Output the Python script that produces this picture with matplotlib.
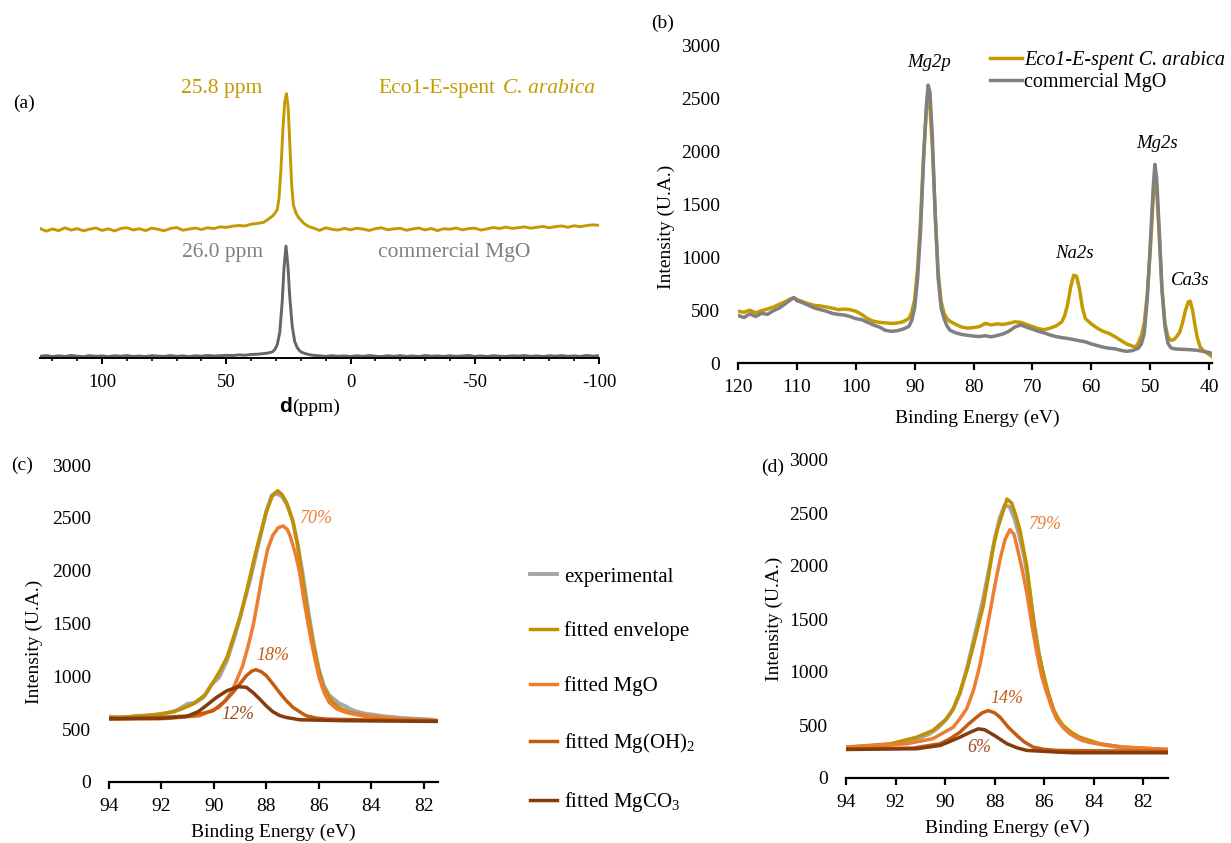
import matplotlib
matplotlib.use("Agg")
import matplotlib.pyplot as plt
from matplotlib.ticker import MultipleLocator

plt.rcParams['font.family'] = ['Liberation Serif', 'DejaVu Serif']
plt.rcParams['mathtext.fontset'] = 'custom'
plt.rcParams['mathtext.rm'] = 'Liberation Serif'
plt.rcParams['mathtext.it'] = 'Liberation Serif:italic'
plt.rcParams['axes.unicode_minus'] = False

# ---------------- (a) 25Mg NMR ----------------
ppm_mgo = [125, 122.5, 120, 117.5, 115, 112.5, 110, 107.5, 105, 102.5, 100, 97.5, 95, 92.5, 90, 87.5,
           85, 82.5, 80, 77.5, 75, 72.5, 70, 67.5, 65, 62.5, 60, 57.5, 55, 52.5, 50, 47.5, 45, 42.5,
           40, 37.5, 35, 33, 31.5, 30.5, 29.5, 28.5, 27.5, 26.8, 26.0, 25.2, 24.5, 23.5, 22.5, 21.5,
           20.5, 19.5, 18, 16.5, 15, 12.5, 10, 7.5, 5, 2.5, 0, -2.5, -5, -7.5, -10, -12.5, -15, -17.5,
           -20, -22.5, -25, -27.5, -30, -32.5, -35, -37.5, -40, -42.5, -45, -47.5, -50, -52.5, -55,
           -57.5, -60, -62.5, -65, -67.5, -70, -72.5, -75, -77.5, -80, -82.5, -85, -87.5, -90, -92.5,
           -95, -97.5, -100]
nmr_mgo = [0.5, 1.2, 0.3, 1.0, 0.4, 1.3, 0.6, 0.2, 1.1, 0.5, 0.9, 0.2, 1.0, 0.6, 1.2, 0.4,
           0.8, 0.3, 1.1, 0.7, 0.4, 1.2, 0.5, 0.9, 0.3, 1.0, 0.6, 1.3, 0.8, 1.1, 1.4, 1.2, 1.8, 1.5,
           2.2, 2.4, 3.0, 3.6, 4.5, 6.5, 11, 22, 50, 80, 100, 82, 55, 28, 14, 8.5,
           5.5, 4.0, 2.8, 2.0, 1.4, 1.0, 0.4, 1.1, 0.6, 0.9, 0.3, 1.0, 0.5, 1.2, 0.6, 0.3, 1.0, 0.5,
           1.1, 0.4, 0.9, 0.3, 1.2, 0.6, 0.9, 0.4, 1.0, 0.5, 0.8, 1.3, 0.4, 0.9, 0.3,
           1.1, 0.6, 0.4, 1.0, 0.7, 1.2, 0.5, 0.9, 0.3, 1.0, 0.6, 1.2, 0.5, 0.9, 0.4,
           1.3, 0.7, 1.0]

ppm_eco = [125, 122.5, 120, 117.5, 115, 112.5, 110, 107.5, 105, 102.5, 100, 97.5, 95, 92.5, 90, 87.5,
           85, 82.5, 80, 77.5, 75, 72.5, 70, 67.5, 65, 62.5, 60, 57.5, 55, 52.5, 50, 47.5, 45, 42.5,
           40, 37.5, 35, 33, 31.5, 30.5, 29.5, 28.8, 28, 27.2, 26.5, 25.8, 25.1, 24.4, 23.7, 23, 22,
           21, 20, 19, 17.5, 16, 14.5, 12.5, 10, 7.5, 5, 2.5, 0, -2.5, -5, -7.5, -10, -12.5, -15,
           -17.5, -20, -22.5, -25, -27.5, -30, -32.5, -35, -37.5, -40, -42.5, -45, -47.5, -50, -52.5,
           -55, -57.5, -60, -62.5, -65, -67.5, -70, -72.5, -75, -77.5, -80, -82.5, -85, -87.5, -90,
           -92.5, -95, -97.5, -100]
nmr_eco = [1.0, -1.5, 0.5, -1.0, 1.5, -0.5, 0.8, -1.2, 0.3, 1.4, -0.8, 0.6, -1.3, 0.9, 1.6, -0.4,
           0.7, -1.0, 1.2, 0.2, -1.1, 0.9, 1.8, -0.6, 0.4, 1.3, 0.0, 1.6, 0.8, 2.4, 1.9, 3.0, 3.6, 3.2,
           4.8, 5.5, 6.5, 9.5, 12.0, 14.5, 18, 28, 55, 92, 115, 122.6, 110, 75, 40, 22, 15,
           11, 8.5, 6, 3.5, 2.0, 1.0, -0.8, 1.5, 0.2, -0.5, 1.0, -0.3, 1.2, 0.4, -0.9, 0.8, 1.5, -0.2,
           0.6, 1.1, -0.7, 0.5, 1.3, -0.4, 0.9, -1.0, 0.7, 0.2, 1.4, -0.3, 0.8, 1.2, -0.5,
           0.6, 1.8, 0.9, 2.2, 1.0, 1.6, 2.4, 1.2, 2.0, 2.8, 1.5, 2.6, 3.2, 2.0, 3.4,
           2.5, 3.6, 4.2, 3.8]
eco_offset = 115

# ---------------- (b) XPS survey ----------------
be_mgo = [120, 119, 118, 117, 116, 115, 114, 113, 112, 111, 110.5, 110, 109, 108, 107, 106, 105, 104,
          103, 102, 101, 100, 99, 98, 97, 96, 95, 94, 93, 92, 91, 90.5, 90, 89.5, 89, 88.5, 88, 87.7,
          87.4, 87, 86.5, 86, 85.5, 85, 84.5, 84, 83, 82, 81, 80, 79, 78, 77, 76, 75, 74, 73, 72, 71,
          70, 69, 68, 67, 66, 65, 64, 63, 62, 61, 60, 59, 58, 57, 56, 55, 54, 53, 52, 51.5, 51, 50.5,
          50, 49.5, 49.2, 48.9, 48.5, 48, 47.5, 47, 46.5, 46, 45, 44, 43, 42, 41, 40, 39.5]
int_mgo = [450, 430, 465, 440, 470, 460, 495, 520, 560, 600, 620, 590, 570, 545, 520, 505, 490, 470,
           460, 455, 440, 420, 410, 385, 360, 340, 310, 300, 305, 320, 345, 400, 520, 800, 1250, 1900,
           2450, 2630, 2560, 2150, 1400, 800, 520, 420, 350, 310, 285, 270, 262, 255, 250, 258, 248,
           260, 275, 300, 340, 360, 340, 320, 300, 285, 265, 250, 240, 232, 222, 210, 200, 180, 165,
           150, 140, 135, 120, 110, 118, 140, 180, 280, 600, 1100, 1650, 1880, 1750, 1300, 700, 350,
           190, 145, 135, 130, 128, 125, 120, 110, 100, 90]

be_eco = [120, 119, 118, 117, 116, 115, 114, 113, 112, 111, 110.5, 110, 109, 108, 107, 106, 105, 104,
          103, 102, 101, 100, 99, 98, 97, 96, 95, 94, 93, 92, 91, 90.5, 90, 89.5, 89, 88.5, 88, 87.7,
          87.4, 87, 86.5, 86, 85.5, 85, 84.5, 84, 83, 82, 81, 80, 79, 78, 77, 76, 75, 74, 73, 72, 71,
          70, 69, 68, 67, 66, 65, 64.5, 64, 63.5, 63, 62.5, 62, 61.5, 61, 60, 59, 58, 57, 56, 55, 54,
          53, 52.5, 52, 51.5, 51, 50.5, 50, 49.5, 49.2, 48.9, 48.5, 48, 47.5, 47, 46.5, 46, 45.5, 45,
          44.5, 44, 43.5, 43.2, 42.8, 42.4, 42, 41.5, 41, 40.5, 40, 39.5]
int_eco = [490, 480, 500, 475, 495, 510, 530, 555, 580, 610, 615, 600, 580, 560, 545, 540, 530, 520,
           505, 510, 505, 490, 460, 420, 395, 385, 380, 375, 378, 390, 420, 480, 600, 900, 1350, 1950,
           2400, 2500, 2420, 2050, 1400, 850, 580, 470, 420, 395, 365, 340, 330, 335, 345, 375, 360,
           370, 365, 375, 390, 385, 365, 345, 325, 315, 330, 350, 390, 450, 560, 720, 830, 820, 700,
           520, 420, 370, 330, 300, 280, 250, 215, 180, 160, 150, 190, 260, 380, 650, 1050, 1550,
           1740, 1650, 1250, 700, 380, 250, 215, 220, 250, 290, 380, 500, 580, 585, 500, 360, 240,
           150, 120, 100, 80, 60]

# ---------------- (c) Mg2p fit, Eco1-E-spent ----------------
be_c_exp = [94, 93.5, 93, 92.5, 92, 91.5, 91, 90.7, 90.4, 90.1, 89.8, 89.5, 89.2, 88.9, 88.6, 88.3, 88.0,
            87.8, 87.6, 87.4, 87.2, 87.0, 86.8, 86.6, 86.4, 86.2, 86.0, 85.8, 85.6, 85.4, 85.2, 85.0,
            84.8, 84.6, 84.3, 84.0, 83.6, 83.2, 82.8, 82.4, 82.0, 81.7, 81.45]
c_exp = [620, 605, 625, 630, 645, 665, 740, 750, 800, 920, 990, 1150, 1380, 1650, 1930, 2250, 2560,
         2710, 2730, 2700, 2620, 2480, 2250, 1950, 1620, 1320, 1070, 910, 820, 780, 740, 720,
         690, 670, 650, 640, 625, 615, 605, 600, 595, 590, 580]
be_c_env = [94, 93, 92, 91.3, 90.8, 90.3, 89.8, 89.5, 89.27, 89.0, 88.76, 88.4, 88.0, 87.75, 87.56, 87.4,
            87.24, 86.98, 86.8, 86.6, 86.4, 86.2, 86.0, 85.84, 85.6, 85.46, 85.2, 84.82, 84.2, 83.5,
            82.9, 81.45]
c_env = [611, 620, 642, 684, 737, 832, 1038, 1180, 1355, 1560, 1798, 2178, 2557, 2720, 2757, 2720,
         2652, 2462, 2230, 1893, 1560, 1291, 1060, 912, 800, 753, 700, 658, 627, 608, 595, 579]
be_c_mgo = [94, 91.8, 90.54, 89.8, 89.5, 89.27, 88.9, 88.7, 88.5, 88.3, 88.13, 87.95, 87.75, 87.55,
            87.36, 87.2, 87.1, 86.9, 86.73, 86.55, 86.35, 86.15, 85.97, 85.8, 85.6, 85.3, 84.95,
            84.6, 84.2, 83.5, 82.9, 81.45]
c_mgo = [595, 601, 627, 706, 790, 880, 1101, 1280, 1481, 1750, 1988, 2200, 2336, 2405, 2424, 2390,
         2336, 2170, 1988, 1700, 1418, 1170, 975, 850, 753, 690, 658, 638, 620, 605, 595, 579]
be_c_oh = [94, 92.07, 90.8, 90.03, 89.6, 89.27, 89.0, 88.76, 88.55, 88.4, 88.2, 88.0, 87.75, 87.5,
           87.24, 86.98, 86.7, 86.48, 86.1, 85.7, 84, 81.45]
c_oh = [595, 611, 627, 674, 760, 848, 930, 1006, 1050, 1063, 1045, 1006, 930, 848, 770, 706, 660,
        627, 605, 595, 587, 579]
be_c_co3 = [94, 92.07, 91.05, 90.6, 90.3, 89.9, 89.5, 89.08, 88.76, 88.5, 88.25, 88.0, 87.75, 87.5,
            87.24, 86.73, 85, 81.45]
c_co3 = [601, 601, 620, 665, 722, 800, 864, 902, 896, 845, 785, 720, 665, 630, 611, 589, 580, 573]

# ---------------- (d) Mg2p fit, commercial MgO ----------------
be_d_exp = [94, 93.5, 93, 92.5, 92, 91.5, 91, 90.6, 90.3, 90, 89.7, 89.4, 89.1, 88.8, 88.5, 88.2, 88.0,
            87.8, 87.6, 87.4, 87.2, 87.0, 86.8, 86.6, 86.4, 86.2, 86.0, 85.8, 85.6, 85.4, 85.2, 85.0,
            84.7, 84.4, 84, 83.5, 83, 82.5, 82, 81.5, 81]
d_exp = [285, 275, 300, 310, 320, 345, 380, 420, 470, 540, 640, 800, 1050, 1350, 1650, 2000, 2250,
         2450, 2570, 2560, 2450, 2280, 2080, 1790, 1450, 1160, 920, 760, 620, 530, 470, 430,
         380, 350, 330, 310, 290, 280, 275, 265, 240]
be_d_env = [94, 92.2, 91.15, 90.5, 89.94, 89.65, 89.4, 89.1, 88.86, 88.46, 88.25, 88.05, 87.88, 87.72,
            87.5, 87.31, 87.15, 86.98, 86.7, 86.44, 86.24, 86.04, 85.83, 85.63, 85.43, 85.23, 84.9,
            84.56, 83.75, 82.8, 81.0]
d_env = [291, 323, 385, 448, 558, 660, 808, 1030, 1247, 1623, 1900, 2187, 2350, 2469, 2632, 2594,
         2480, 2343, 1999, 1498, 1200, 996, 800, 652, 560, 495, 430, 385, 323, 291, 269]
be_d_mgo = [94, 91.55, 90.5, 89.67, 89.4, 89.13, 88.85, 88.6, 88.4, 88.19, 87.98, 87.78, 87.58, 87.38,
            87.22, 87.1, 86.9, 86.7, 86.5, 86.3, 86.1, 85.9, 85.7, 85.5, 85.2, 84.96, 84.5, 84.15,
            83.5, 82.8, 81]
d_mgo = [291, 323, 370, 479, 560, 652, 830, 1059, 1300, 1560, 1830, 2062, 2250, 2343, 2300, 2187,
         1980, 1748, 1450, 1184, 960, 808, 670, 558, 470, 417, 365, 338, 310, 291, 269]
be_d_oh = [94, 91.3, 90.2, 89.8, 89.4, 89.05, 88.73, 88.5, 88.26, 88.0, 87.78, 87.45, 87.1, 86.8,
           86.44, 86.0, 85.5, 83, 81]
d_oh = [276, 282, 323, 370, 432, 510, 573, 615, 636, 615, 573, 480, 401, 340, 291, 270, 260, 255, 251]
be_d_co3 = [94, 91.15, 90.2, 89.8, 89.4, 89.0, 88.66, 88.4, 88.0, 87.5, 87.1, 86.7, 85.5, 84.83, 81]
d_co3 = [269, 276, 307, 345, 385, 430, 464, 455, 400, 323, 285, 260, 245, 238, 238]

fit_labels = ['experimental', 'fitted envelope', 'fitted MgO', 'fitted Mg(OH)$_2$', 'fitted MgCO$_3$']

# colours
GOLD = '#C49A00'
GRAY_A = '#666666'
GRAY_B = '#808080'
C_EXP = '#A6A6A6'
C_ENV = '#BF9000'
C_MGO = '#ED7D31'
C_OH = '#C55A11'
C_CO3 = '#843C0C'

W, H = 1231, 843
fig = plt.figure(figsize=(W / 100, H / 100), dpi=100)


def px_axes(left, right, top, bottom):
    return fig.add_axes([left / W, 1 - bottom / H, (right - left) / W, (bottom - top) / H])


def style_xps(ax, ylab_x, ylab_y, xlab_x, xlab_y):
    for s in ['top', 'right', 'left']:
        ax.spines[s].set_visible(False)
    ax.spines['bottom'].set_linewidth(1.6)
    ax.tick_params(axis='y', length=0, pad=13, labelsize=14)
    ax.tick_params(axis='x', direction='out', length=5, width=1.6, pad=6.5, labelsize=14)
    ax.set_ylim(0, 3000)
    ax.yaxis.set_major_locator(MultipleLocator(500))
    ax.set_ylabel('Intensity (U.A.)', fontsize=14)
    ax.set_xlabel('Binding Energy (eV)', fontsize=14)
    ax.yaxis.set_label_coords(ylab_x, ylab_y)
    ax.xaxis.set_label_coords(xlab_x, xlab_y)
    ax.patch.set_alpha(0)


# ---- (a)
ax_a = px_axes(40, 599, 70, 358)
ax_a.plot(ppm_eco, [v + eco_offset for v in nmr_eco], color=GOLD, lw=2.1)
ax_a.plot(ppm_mgo, nmr_mgo, color=GRAY_A, lw=2.1)
ax_a.set_xlim(125, -100)
ax_a.set_ylim(-1, 259)
for s in ['top', 'right', 'left']:
    ax_a.spines[s].set_visible(False)
ax_a.spines['bottom'].set_linewidth(1.4)
ax_a.set_yticks([])
ax_a.xaxis.set_major_locator(MultipleLocator(50))
ax_a.xaxis.set_minor_locator(MultipleLocator(10))
ax_a.tick_params(axis='x', which='major', direction='out', length=4, width=1.4, pad=7.5, labelsize=13.5)
ax_a.tick_params(axis='x', which='minor', direction='out', length=2.5, width=1.2)
ax_a.text(51.7, 242, '25.8 ppm', color=GOLD, fontsize=15.5, ha='center', va='center')
ax_a.text(-11.1, 242, 'Eco1-E-spent', color=GOLD, fontsize=15.5, ha='left', va='center')
ax_a.text(-61.4, 242, 'C. arabica', color=GOLD, fontsize=15.5, ha='left', va='center',
          style='italic')
ax_a.text(51.7, 94, '26.0 ppm', color=GRAY_B, fontsize=15.5, ha='center', va='center')
ax_a.text(-11.1, 94, 'commercial MgO', color=GRAY_B, fontsize=15.5, ha='left', va='center')
fig.text(279 / W, 1 - 407 / H, 'd', family='Liberation Sans', weight='bold', fontsize=15,
         ha='left', va='center')
fig.text(292 / W, 1 - 407 / H, '(ppm)', fontsize=14, ha='left', va='center')
fig.text(13 / W, 1 - 103 / H, '(a)', fontsize=14, ha='left', va='center')

# ---- (b)
ax_b = px_axes(738, 1212, 46, 363)
ax_b.plot(be_eco, int_eco, color=GOLD, lw=2.5, label='Eco1-E-spent C. arabica')
ax_b.plot(be_mgo, int_mgo, color=GRAY_B, lw=2.5, label='commercial MgO')
ax_b.set_xlim(120, 39.5)
ax_b.xaxis.set_major_locator(MultipleLocator(10))
style_xps(ax_b, -0.133, 0.429, 0.504, -0.146)
for lab, x, y in [('Mg2p', 87.6, 2848), ('Mg2s', 48.8, 2081), ('Na2s', 62.9, 1040), ('Ca3s', 43.2, 785)]:
    ax_b.text(x, y, lab, style='italic', fontsize=13.5, ha='center', va='center')
leg_b = ax_b.legend(loc='upper left', bbox_to_anchor=(990 / W, 1 - 51 / H),
                    bbox_transform=fig.transFigure, frameon=False, fontsize=14.5,
                    handlelength=1.6, handletextpad=0.1, labelspacing=0.15,
                    borderpad=0, borderaxespad=0)
leg_b.get_texts()[0].set_fontstyle('italic')
fig.text(663 / W, 1 - 23 / H, '(b)', fontsize=14, ha='center', va='center')

# ---- (c)
ax_c = px_axes(109, 438, 465, 782)
h1, = ax_c.plot(be_c_exp, c_exp, color=C_EXP, lw=2.8)
h2, = ax_c.plot(be_c_env, c_env, color=C_ENV, lw=2.5)
h3, = ax_c.plot(be_c_mgo, c_mgo, color=C_MGO, lw=2.5)
h4, = ax_c.plot(be_c_oh, c_oh, color=C_OH, lw=2.5)
h5, = ax_c.plot(be_c_co3, c_co3, color=C_CO3, lw=2.5)
ax_c.set_xlim(94, 81.45)
ax_c.xaxis.set_major_locator(MultipleLocator(2))
style_xps(ax_c, -0.2, 0.442, 0.498, -0.13)
ax_c.text(86.09, 2494, '70%', color=C_MGO, style='italic', fontsize=13, ha='center', va='center')
ax_c.text(87.75, 1196, '18%', color=C_OH, style='italic', fontsize=13, ha='center', va='center')
ax_c.text(89.08, 642, '12%', color='#9A4A1E', style='italic', fontsize=13, ha='center', va='center')
fig.text(22 / W, 1 - 465 / H, '(c)', fontsize=14, ha='center', va='center')

# ---- (d)
ax_d = px_axes(846, 1168, 460, 778)
ax_d.plot(be_d_exp, d_exp, color=C_EXP, lw=2.8)
ax_d.plot(be_d_env, d_env, color=C_ENV, lw=2.5)
ax_d.plot(be_d_mgo, d_mgo, color=C_MGO, lw=2.5)
ax_d.plot(be_d_oh, d_oh, color=C_OH, lw=2.5)
ax_d.plot(be_d_co3, d_co3, color=C_CO3, lw=2.5)
ax_d.set_xlim(94, 81)
ax_d.xaxis.set_major_locator(MultipleLocator(2))
style_xps(ax_d, -0.196, 0.5, 0.5, -0.132)
ax_d.text(85.93, 2390, '79%', color=C_MGO, style='italic', fontsize=13, ha='center', va='center')
ax_d.text(87.5, 746, '14%', color=C_OH, style='italic', fontsize=13, ha='center', va='center')
ax_d.text(88.62, 291, '6%', color='#9A4A1E', style='italic', fontsize=13, ha='center', va='center')
fig.text(773 / W, 1 - 467 / H, '(d)', fontsize=14, ha='center', va='center')

# shared legend for (c)/(d)
fig.legend([h1, h2, h3, h4, h5], fit_labels, loc='upper left',
           bbox_to_anchor=(530 / W, 1 - 567 / H), frameon=False, fontsize=15,
           handlelength=1.3, handletextpad=0.35, labelspacing=1.68,
           borderpad=0, borderaxespad=0)

fig.savefig('out.png', dpi=100)
